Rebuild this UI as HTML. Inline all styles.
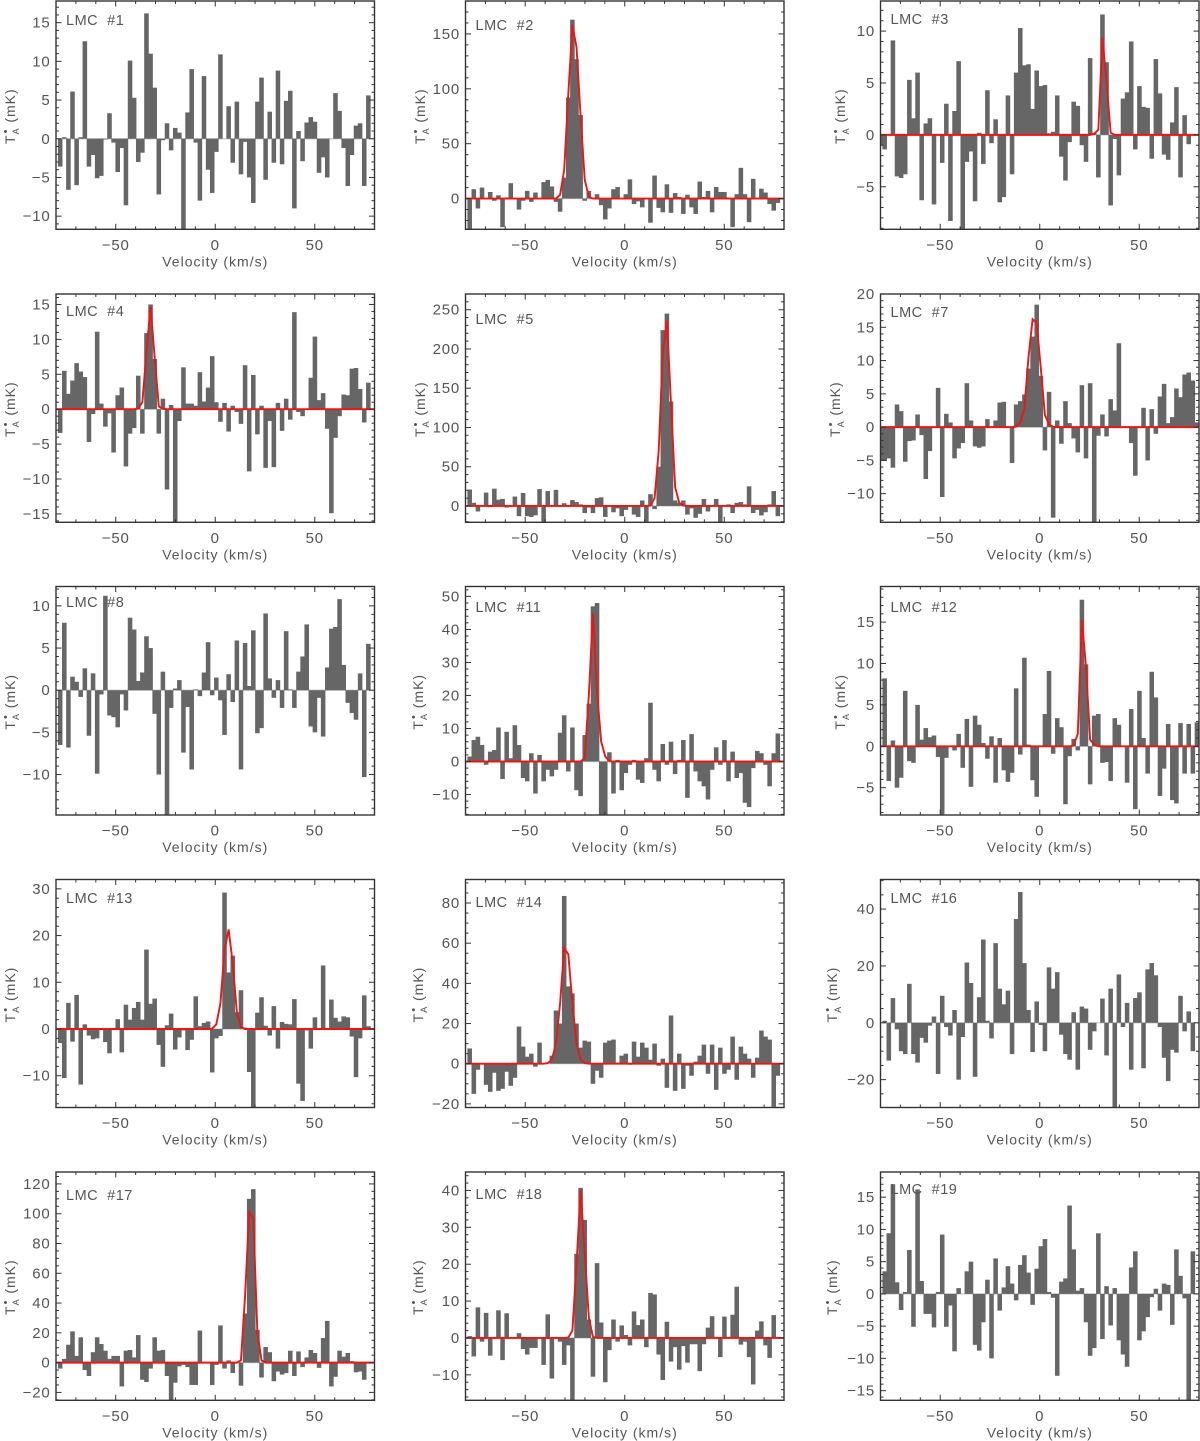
<!DOCTYPE html>
<html lang="en">
<head>
<meta charset="utf-8">
<title>LMC spectra</title>
<style>
html,body{margin:0;padding:0;background:#fff;}
svg{display:block;}
text{font-family:"Liberation Sans",sans-serif;fill:#555555;}
.tick{font-size:15px;letter-spacing:.8px;}
.title{font-size:14px;letter-spacing:1px;}
.name{font-size:14.5px;letter-spacing:.5px;white-space:pre;}
</style>
</head>
<body>
<svg id="chart" xmlns="http://www.w3.org/2000/svg" width="1200" height="1441" viewBox="0 0 1200 1441"></svg>
<script>
const panelNames = ['#1','#2','#3','#4','#5','#7','#8','#11','#12','#13','#14','#16','#17','#18','#19'];
const xDomain = [-80, 80];
const xTickValues = [-50, 0, 50];
const channelStartVelocity = -79.96;
const channelWidth = 2.064;
const yDomains = [[-11.7,17.8],[-28,180],[-9.1,12.9],[-16.2,16.5],[-20.8,270],[-14.3,20],[-14.8,12.3],[-16.2,53],[-8.3,19.3],[-16.8,32],[-21.8,91.7],[-29.8,50.4],[-25.3,128],[-16.9,45],[-16.5,18.9]];
const yMajorSteps = [5,50,5,5,50,5,5,10,5,10,20,20,20,10,5];
const yMinorSteps = [1,10,1,1,10,1,1,2,1,2,5,5,5,2,1];

const spec1 = [0,-3.6,0.2,-6.6,6.1,-6,0.2,12.6,-3.6,-2.1,-5.1,-4.8,-0.1,3.3,-0.5,-4.3,-1.2,-8.6,10.1,5.3,-3,-1.8,16.2,11,6.6,-7.2,-0.2,2,-1.5,1.4,0.8,-12,3.4,9,-0.5,-8,8.1,-4,-7,-1.7,10.9,0,4.2,-3.1,4.8,-4.6,-0.4,-5,-8.3,4.8,7.9,-5.3,3.5,-3.1,8.8,-3.3,4.9,6.2,-9,1,-2.9,2.1,2.8,2.2,-4.4,-2.4,-5,0,5.9,3.6,-1.2,-6.1,-2.1,1.7,2,-6.1,5.6];
const spec2 = [0,-28,8.5,-9,10,0,6,-2,3,-26,1,14,0,-10,-2,7,-3,5.5,-0.5,15,17,11,-3,-12,19,92,163,127,76,-2,7,0.5,4,-6,-19,-9,8.5,10.5,0,4,17.5,-5,-2.5,-8,0,-22,21,-8.5,-12.5,13,-13,5,1.5,-14,3.5,-8,-14,15.5,1.5,7,-12.5,10.5,6,6,1,-26,4,28,4,-21.5,18,0.5,9,5.5,-5,-11,-4];
const spec3 = [-1,-1.4,0,9.1,-4,-4.15,-3.8,5.3,1.6,6,-6.3,1.1,1.6,-6.7,0,-2.7,3,-8.3,2.3,7.1,-9.2,-2.6,-1.6,-6.4,0.2,-2.8,4.3,-0.8,1.5,-6.5,-6,3.8,-3.8,6,10.3,6.7,6.8,2.5,6.2,4.7,4.8,0.15,0.3,3.8,-2.1,-4.4,-0.7,3.2,2.8,-1,-2.6,7.4,0.2,-4.1,11.6,7,-6.8,-0.4,-3.9,3.5,4.1,9,-1.4,4.7,2.7,2.6,-2.3,7.3,4,-1.9,-2.4,1.2,4.6,-4.1,1.9,-0.9,0.05];
const spec4 = [0,-3.4,5.5,2.2,4.1,6.6,5.4,4.6,-4.7,-0.7,11.1,0.8,-2.5,-0.6,-6.2,2,3.1,-8.2,-3.5,-2.7,4.8,-3.5,10.9,15,7.2,-3.5,1.5,-11.5,0.6,-16.5,-1.7,6,0.8,0.8,0.5,5.3,1.1,3.1,7.6,1,-1.8,0.9,-3.2,0.5,-0.4,-2.1,6.3,-8.9,4.9,-3.6,0.5,-8.4,-1.7,-8.3,0.9,-3.1,1.5,-1.5,13.9,-0.4,-1,0,4.5,10.4,1.3,2.3,-2.8,-14.9,-4.1,-1,2.1,2,5.8,5.9,2.9,-1.9,3.8];
const spec5 = [0,21,4,-7,0,17,-1.5,22,8,9,-2,0,12,-13,16.5,-13,-14,-12,21.5,-20,19,0,20.5,-1,3.5,-1,7.5,5,2,-9,-2,-9,10,11,-14,0,-8,-3,-13,-5,0,-11,-14,7,-20,15,-4,50,224,245,133,7,4,7,-11,-3,-15,-10,9,-7,0,9,-21,0,2,-9,4,5,2,25,-9,-5,-12,-8,2,19,-13];
const spec7 = [-5,-5.1,-4.7,-6.1,3.4,2.4,-5.2,-2.1,-2,1.9,-1.2,-7.8,-3.6,0,5.9,-10.5,2,0.7,-4.7,-3.2,-2.4,6.6,1,-2.9,-3.1,-2.9,1.2,0,1,3.7,3.8,0,-5.4,3.4,3.9,4.9,8.8,13.6,18.4,7.7,-3.5,5.3,-13.6,1,-2.5,3.9,0.6,-1.7,-3.8,6.3,-4.7,6.6,-14.5,-1.3,1.9,-1.4,4.2,2.5,12.6,0.1,0,-2.4,-7.3,-0.1,2.9,-5,2.7,-1,4.6,6.5,0.6,1.5,5.8,4.5,7.9,8.2,7,0.7];
const spec8 = [0,-6.5,8,-6.8,1.6,1,-0.8,2.6,-5.4,2,-9.9,-0.5,11.2,-3,-3.2,-4.4,-0.5,-2.4,8.6,7.2,1.1,2.1,6.4,5,-2.8,-10,2.2,-14.8,-2.1,0.2,1.2,-7.4,-2,-9.4,0.1,-0.7,2.1,5.7,-0.6,1.5,-1.2,-5.3,1.9,-1.4,5.9,-9.4,5.6,0.5,7.1,-5.1,-4.5,9.1,1.4,-0.9,1.2,-2.1,7,0.1,-2.1,2.2,4,7.8,-4.3,-5,-0.9,-5.5,2.7,7.3,7.5,10.8,3,-1.5,-2.7,-3.5,2,-10.3,5.5];
const spec11 = [0,1.5,6.5,7.5,5,-1,3,3.5,10.3,-5.3,9,1,11,5,-5,-6,2.5,-9.7,2,-6,-2.5,-4.5,-2.5,8.7,14,-3,10.3,-8.7,-10.5,8,17.5,47,48,-16.2,-16.2,2.8,-9.7,0.5,-8.7,-3.5,-1,0.5,-5.5,-6.5,1,17.8,-2.5,-6,5.3,-1,6,-3.8,0.5,6.5,-11,8.3,-3,-6,-7.5,-11.5,-2.5,4.3,-1,6.5,-6,3,-5,-3.5,-12.5,-13.8,-2,3.2,2.5,-1,-7.5,2.5,8.5];
const spec12 = [0,8.2,-4.2,0.7,-5,-3.8,6.7,-1.8,-2,5,0.8,2.2,1.1,1.3,-1.3,-8.3,-1.4,0,-0.5,1.5,-2.6,3.3,-4.9,3.7,2.6,0.4,-1.5,1.2,-4.4,1,-2.9,-4.3,-3.2,7,-1,10.7,0.2,-4.1,-6.1,0.1,3.9,9.1,-0.9,3.4,2.3,-7,-1.2,0.9,-0.5,17.7,9.9,-4.6,3.7,3.9,-2,-1.9,-4.2,3.4,2.6,0,-4.4,4.5,-7.6,6.7,1,-3.3,9,5.9,-6,-2.7,2.7,-6.5,-6.9,2.8,-3.3,2.7,-3.3,2.9];
const spec13 = [0,-3,-10.5,5.6,-2.7,7.3,-11.9,1,-1.4,-2.2,-2,0,-2.8,-5.2,0,2.1,-5,5.2,2,4.5,5.8,2,17,5.4,6.5,-3.4,-8.1,0.8,3.3,-4.4,-1.8,-0.3,-4.5,-2.3,7,0.6,1.3,1.6,-9.3,-2,-1.5,29.2,12.1,15.7,3.6,8.3,0.3,-9.2,-17,3.5,6.8,0.7,-1.4,4.9,-4.2,1.5,1.1,1,6.4,-11.7,-15.4,-0.3,-4.2,2.5,0,13.6,0.1,6.3,2.4,1.6,2.7,2.5,-1.6,-10.3,-2,7.2,0.6];
const spec14 = [0,7.6,-15,-3,0,-10.5,-14,-4.5,-13.5,-12.5,-4,-11,-7,18.5,8.5,3.5,5,-1.5,10.5,0,0,4,26.5,20,83.5,38.5,35,20,8,11.5,11,-10,-3.5,-7,10.5,11.5,12,0.5,4,5,-0.5,11,3.5,10.5,8,2,10,-1,2.5,-12,24,-13.5,5,-12.5,-1,-6,1,4,9.5,-5,9.5,-13,8,-5,-3,13.5,-8,8.5,5,2.5,-7,3,16.5,13.5,12,-21.5,-6];
const spec16 = [0,0.7,-13.3,8.7,-2.3,-10,-11,13.7,-11,-14,-5.3,-7,-1,2.2,-18,9.5,-1.5,-4.5,4.5,-20,-5,21.2,14,-19,9,29.3,0.7,-5.5,28,12,6.5,11.3,-11,36.5,46,21,4.5,-10.3,7.5,-0.8,-10,19.5,12,17.8,-4.2,-11,-13,3.7,-16.5,5.7,5,-9.5,-3,0,8.5,-11.5,12,-30,17,-1.5,7,-16.5,8.7,10.7,-16,18.8,21,16.7,-1.5,-12.3,-20.5,-9.5,-10.5,9.5,-3,4,-10];
const spec17 = [0,-4,2.5,12,21,4.5,17,-5,-9,7,17,12.5,8,2.5,4.5,4.5,-16,8,8.5,3.5,18.5,-11.5,-13,-4,17,8,8.5,-9,-26,-13.5,-2.5,-1.5,-3,-15,-15,21.5,0,0,-15,-1.5,25,-4,1.5,-7,0.5,-15.5,33,110,116.5,22,-10,10.5,7,-12.5,-6,-8,-7,8,-9,7.5,-3,3.5,8.5,6.5,-3.5,16.5,28,-16,-9.5,8,4,6.5,1,-6.5,-6,-11.5,0];
const spec18 = [0,0.5,-5,8.3,-1,6.8,-4.8,0.3,7.5,-6,6.7,0,0,1.3,-3,-4.5,-2.7,-2.7,0,-7.3,6.4,-11,0.3,-1,-7.3,-2,-16.9,22.8,40.7,32,5,-10.5,20.3,4.2,-12,-3.3,5,-1,3.4,0.8,-2,7.2,3.5,5,-2.5,12.2,11.8,-4.5,-11.4,4.4,-6.4,-2.5,-8.6,-2.2,-6.7,-1.7,-1.7,-9,-1.7,2.8,5.9,0.3,-5.2,5.8,0.3,6.3,13.9,-1.8,-1,-5.2,-12.6,2,4.5,-2,-5.4,6.2,0];
const spec19 = [0,3.5,9.4,17,1.8,-2.5,0.3,6.8,-5.1,16.2,2,-3.1,-3.1,-5.2,0.3,9.2,-5.1,-1.8,-8.9,0.9,0,3.5,5,-7.9,-8.8,-4.4,2.2,-10,5.5,-2.6,1,4.3,1.6,-1,4.5,6,3.3,-1.7,3.9,7.4,8.5,0.3,-0.6,-12.7,1.9,2.4,13.7,6.9,0.5,0.9,-4.4,-9.6,-8.4,9.4,-7,1.2,-4.9,0.9,-7.2,-9.4,-11.3,4.1,6.6,-7.2,-5.8,-3.6,-0.5,0.8,-2.6,1.6,1.4,-4.8,6.9,2.8,-0.7,-16.5,6.6];

const fit2Start = 22, fit2 = [0,3.5,26,95,158,138,75,17,1.5,0];
const fit3Start = 51, fit3 = [0,0.1,0.5,9.4,5,0.2,0];
const fit4Start = 19, fit4 = [0,0.1,1,8.2,14.7,7.3,0.4,0.05,0];
const fit5Start = 44, fit5 = [0,0.5,10,70,195,236,130,24,4,0.5,0];
const fit7Start = 32, fit7 = [0,0.1,0.7,2.8,10.5,16.2,15.6,8.8,1.8,0.4,0.05,0];
const fit11Start = 28, fit11 = [0,1,20,45,21,6,1.5,0.1,0];
const fit12Start = 46, fit12 = [0,0.1,1.5,15.3,9.5,0.8,0.2,0];
const fit13Start = 37, fit13 = [0,0.1,1,5.5,17,21.3,14,3.6,0.4,0];
const fit14Start = 19, fit14 = [0,0.3,2,10,30,57.5,54.5,30,10,2,0.3,0];
const fit17Start = 44, fit17 = [0,1.5,45,101,97,20,1.5,0];
const fit18Start = 24, fit18 = [0,0.1,2,20,40,23,5.5,0.3,0];

const spectra = [spec1,spec2,spec3,spec4,spec5,spec7,spec8,spec11,spec12,spec13,spec14,spec16,spec17,spec18,spec19];
const fits = [null,fit2,fit3,fit4,fit5,fit7,null,fit11,fit12,fit13,fit14,null,fit17,fit18,null];
const fitStarts = [0,fit2Start,fit3Start,fit4Start,fit5Start,fit7Start,0,fit11Start,fit12Start,fit13Start,fit14Start,0,fit17Start,fit18Start,0];

/* layout only */
const colLeft = [56, 465.5, 880.5];
const panelW = 318.5;
const rowTop = [1, 294, 586.5, 879.5, 1172];
const rowBottom = [229.3, 522.3, 815, 1107.5, 1400.3];
const nameBaseline = [25,30,24,316,324,317,607,612,612,903,907,903,1200,1199,1194];
const yTitleX = [15,425,845,15,425,840,15,423,845,15,423,837,15,423,837];
const barOverlap = 0.45;

const NS = 'http://www.w3.org/2000/svg';
const svg = document.getElementById('chart');
function make(tag, parent, attrs) {
  const n = document.createElementNS(NS, tag);
  for (const k in attrs) n.setAttribute(k, attrs[k]);
  parent.appendChild(n);
  return n;
}
function fmt(v) { return v < 0 ? '\u2212' + (-v) : String(v); }

panelNames.forEach(function (name, i) {
  const col = i % 3, row = Math.floor(i / 3);
  const L = colLeft[col], R = L + panelW, T = rowTop[row], B = rowBottom[row];
  const dom = yDomains[i];
  const xs = function (v) { return L + (v - xDomain[0]) / (xDomain[1] - xDomain[0]) * panelW; };
  const ys = function (v) { return B - (v - dom[0]) / (dom[1] - dom[0]) * (B - T); };
  const num = name.slice(1);

  const g = make('g', svg, {});
  
  

  const clip = make('clipPath', g, { id: 'clip' + i });
  make('rect', clip, { x: L, y: T, width: panelW, height: B - T });

  const zero = make('line', g, { x1: L, x2: R, y1: ys(0), y2: ys(0), stroke: '#cfcfcf', 'stroke-width': 1.4 });
  
  

  const barsG = make('g', g, { 'clip-path': 'url(#clip' + i + ')', fill: '#666666' });
  
  
  const series = spectra[i];
  series.forEach(function (val, k) {
    const v = channelStartVelocity + k * channelWidth;
    const x0 = xs(v - channelWidth / 2), x1 = xs(v + channelWidth / 2);
    const y0 = ys(Math.max(val, 0)), y1 = ys(Math.min(val, 0));
    const bar = make('rect', barsG, { x: (x0 - barOverlap / 2).toFixed(2), y: y0.toFixed(2), width: (x1 - x0 + barOverlap).toFixed(2), height: (y1 - y0).toFixed(2) });
    
    
  });

  if (fits[i]) {
    const pts = [xs(xDomain[0]).toFixed(2) + ',' + ys(0).toFixed(2)];
    const start = fitStarts[i];
    fits[i].forEach(function (val, j) {
      const v = channelStartVelocity + (start + j) * channelWidth;
      pts.push(xs(v).toFixed(2) + ',' + ys(val).toFixed(2));
    });
    pts.push(xs(xDomain[1]).toFixed(2) + ',' + ys(0).toFixed(2));
    const line = make('polyline', g, { points: pts.join(' '), fill: 'none', stroke: '#f01414', 'stroke-width': 1.9, 'clip-path': 'url(#clip' + i + ')' });
    
    
  }

  const frame = make('rect', g, { x: L, y: T, width: panelW, height: B - T, fill: 'none', stroke: '#333333', 'stroke-width': 1.4 });
  
  

  const ticks = make('g', g, { stroke: '#333333', 'stroke-width': 1 });
  
  
  for (let v = -80; v <= 80; v += 10) {
    const major = v % 50 === 0, len = major ? 5.5 : 3;
    make('line', ticks, { x1: xs(v), x2: xs(v), y1: B, y2: B - len });
    make('line', ticks, { x1: xs(v), x2: xs(v), y1: T, y2: T + len });
  }
  const mn = yMinorSteps[i], mj = yMajorSteps[i];
  for (let m = Math.ceil(dom[0] / mn); m * mn <= dom[1]; m++) {
    const v = m * mn, major = v % mj === 0, len = major ? 5.5 : 3;
    make('line', ticks, { x1: L, x2: L + len, y1: ys(v), y2: ys(v) });
    make('line', ticks, { x1: R, x2: R - len, y1: ys(v), y2: ys(v) });
  }

  xTickValues.forEach(function (v) {
    const t = make('text', g, { x: xs(v), y: B + 20.5, 'text-anchor': 'middle', class: 'tick' });
    t.textContent = fmt(v);
    
    
  });
  for (let m = Math.ceil(dom[0] / mj); m * mj <= dom[1]; m++) {
    const v = m * mj;
    const t = make('text', g, { x: L - 5.5, y: ys(v) + 5, 'text-anchor': 'end', class: 'tick' });
    t.textContent = fmt(v);
    
    
  }

  const xt = make('text', g, { x: L + panelW / 2, y: B + 37, 'text-anchor': 'middle', class: 'title' });
  xt.textContent = 'Velocity (km/s)';
  
  

  const yc = (T + B) / 2 + 1;
  const yt = make('text', g, { x: yTitleX[i], y: yc, 'text-anchor': 'middle', class: 'title', transform: 'rotate(-90 ' + yTitleX[i] + ' ' + yc + ')' });
  
  
  const s1 = make('tspan', yt, {}); s1.textContent = 'T';
  const s2 = make('tspan', yt, { dy: 4, 'font-size': 9 }); s2.textContent = 'A';
  const s3 = make('tspan', yt, { dy: -10, dx: -6, 'font-size': 11 }); s3.textContent = '\u2022';
  const s4 = make('tspan', yt, { dy: 6, dx: 1 }); s4.textContent = ' (mK)';

  const lb = make('text', g, { x: L + 10, y: nameBaseline[i], class: 'name' });
  lb.textContent = 'LMC  ' + name;
  
  
});
</script>
</body>
</html>
